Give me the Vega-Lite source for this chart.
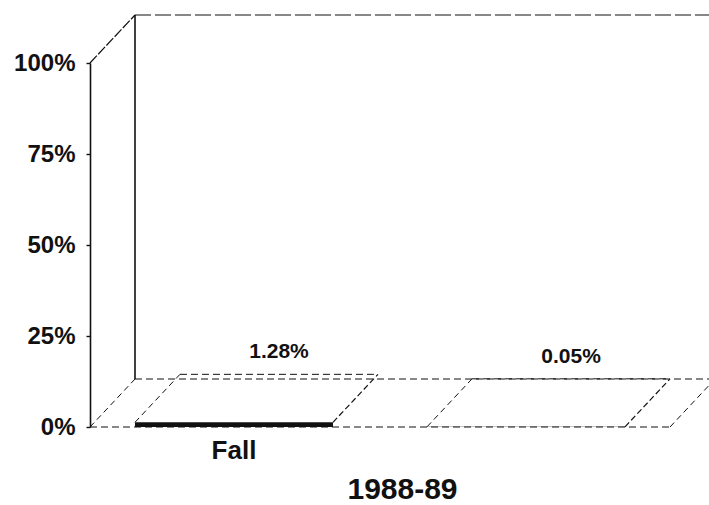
{
  "$schema": "https://vega.github.io/schema/vega-lite/v6.json",
  "width": 580,
  "height": 364,
  "autosize": {"type": "none"},
  "padding": {"left": 90, "top": 63, "right": 39, "bottom": 78},
  "background": "white",
  "config": {
    "view": {"stroke": null},
    "font": "Liberation Sans"
  },
  "layer": [
    {
      "description": "Box frame: floor and back wall, drawn in oblique projection",
      "data": {"values": [{"part": "frame"}]},
      "encoding": {
        "y": {"datum": 0, "type": "quantitative", "scale": {"domain": [0, 1]}, "axis": null}
      },
      "layer": [
        {
          "mark": {"type": "rule", "color": "#111", "strokeWidth": 1, "strokeDash": [7, 4]},
          "encoding": {
            "x": {"datum": 0, "type": "quantitative", "scale": {"domain": [0, 1], "nice": false}, "axis": null},
            "x2": {"datum": 1},
            "y": {"datum": 0, "type": "quantitative"}
          }
        },
        {
          "mark": {"type": "rule", "color": "#111", "strokeWidth": 1, "strokeDash": [7, 4], "xOffset": 45, "x2Offset": 45, "yOffset": -48},
          "encoding": {
            "x": {"datum": 0, "type": "quantitative"},
            "x2": {"datum": 1},
            "y": {"datum": 0, "type": "quantitative"}
          }
        },
        {
          "mark": {"type": "rule", "color": "#111", "strokeWidth": 1.2, "strokeDash": [16, 4], "xOffset": 45, "x2Offset": 45, "yOffset": -48},
          "encoding": {
            "x": {"datum": 0, "type": "quantitative"},
            "x2": {"datum": 1},
            "y": {"datum": 1, "type": "quantitative"}
          }
        },
        {
          "mark": {"type": "rule", "color": "#111", "strokeWidth": 1.6, "xOffset": 45, "yOffset": -48, "y2Offset": -48},
          "encoding": {
            "x": {"datum": 0, "type": "quantitative"},
            "y": {"datum": 0, "type": "quantitative"},
            "y2": {"datum": 1}
          }
        },
        {
          "mark": {"type": "rule", "color": "#111", "strokeWidth": 1, "strokeDash": [6, 4], "x2Offset": 45, "y2Offset": -48},
          "encoding": {
            "x": {"datum": 0, "type": "quantitative"},
            "x2": {"datum": 0},
            "y": {"datum": 0, "type": "quantitative"},
            "y2": {"datum": 0}
          }
        },
        {
          "mark": {"type": "rule", "color": "#111", "strokeWidth": 1.2, "strokeDash": [10, 2], "x2Offset": 45, "y2Offset": -48},
          "encoding": {
            "x": {"datum": 0, "type": "quantitative"},
            "x2": {"datum": 0},
            "y": {"datum": 1, "type": "quantitative"},
            "y2": {"datum": 1}
          }
        },
        {
          "mark": {"type": "rule", "color": "#111", "strokeWidth": 1, "strokeDash": [6, 4], "x2Offset": 45, "y2Offset": -48},
          "encoding": {
            "x": {"datum": 1, "type": "quantitative"},
            "x2": {"datum": 1},
            "y": {"datum": 0, "type": "quantitative"},
            "y2": {"datum": 0}
          }
        }
      ]
    },
    {
      "description": "Rate bars with their top faces and value labels",
      "data": {
        "values": [
          {"term": "Fall", "rate": 0.0128},
          {"term": "Spring", "rate": 0.0005}
        ]
      },
      "encoding": {
        "x": {
          "field": "term",
          "type": "nominal",
          "sort": null,
          "scale": {"paddingInner": 0.322, "paddingOuter": 0.154},
          "axis": {
            "orient": "bottom",
            "title": "1988-89",
            "domain": false,
            "ticks": false,
            "labelAngle": 0,
            "labelFontSize": 26,
            "labelFontWeight": "bold",
            "labelColor": "#111",
            "labelPadding": 10,
            "labelExpr": "datum.label == 'Fall' ? 'Fall' : ''",
            "titleFontSize": 30,
            "titleFontWeight": "bold",
            "titleColor": "#111",
            "titleX": 312,
            "titleY": 71,
            "titleAlign": "center",
            "titleBaseline": "alphabetic"
          }
        },
        "y": {
          "field": "rate",
          "type": "quantitative",
          "scale": {"domain": [0, 1]},
          "axis": {
            "orient": "left",
            "title": null,
            "values": [0, 0.25, 0.5, 0.75, 1],
            "format": ".0%",
            "grid": false,
            "domainColor": "#111",
            "domainWidth": 1.6,
            "tickColor": "#111",
            "tickSize": 4,
            "tickWidth": 1.4,
            "labelFontSize": 24,
            "labelFontWeight": "bold",
            "labelColor": "#111",
            "labelPadding": 11
          }
        }
      },
      "layer": [
        {
          "mark": {"type": "bar", "color": "#111"}
        },
        {
          "mark": {"type": "rule", "color": "#111", "strokeWidth": 1, "strokeDash": [6, 4], "x2Offset": 45, "y2Offset": -48},
          "encoding": {
            "x": {"field": "term", "type": "nominal", "sort": null, "bandPosition": 0},
            "x2": {"field": "term", "bandPosition": 0},
            "y2": {"field": "rate"}
          }
        },
        {
          "mark": {"type": "rule", "color": "#111", "strokeWidth": 1.2, "strokeDash": [6, 3], "x2Offset": 45, "y2Offset": -48},
          "encoding": {
            "x": {"field": "term", "type": "nominal", "sort": null, "bandPosition": 1},
            "x2": {"field": "term", "bandPosition": 1},
            "y2": {"field": "rate"}
          }
        },
        {
          "mark": {"type": "rule", "color": "#111", "strokeWidth": 1, "strokeDash": [7, 4], "xOffset": 45, "x2Offset": 45, "yOffset": -48},
          "encoding": {
            "x": {"field": "term", "type": "nominal", "sort": null, "bandPosition": 0},
            "x2": {"field": "term", "bandPosition": 1}
          }
        },
        {
          "mark": {"type": "text", "color": "#111", "fontSize": 21, "fontWeight": "bold", "baseline": "middle", "dx": 45, "dy": -70},
          "encoding": {
            "text": {"field": "rate", "type": "quantitative", "format": ".2%"}
          }
        }
      ]
    }
  ],
  "resolve": {
    "scale": {"x": "independent"},
    "axis": {"x": "independent", "y": "independent"}
  }
}
